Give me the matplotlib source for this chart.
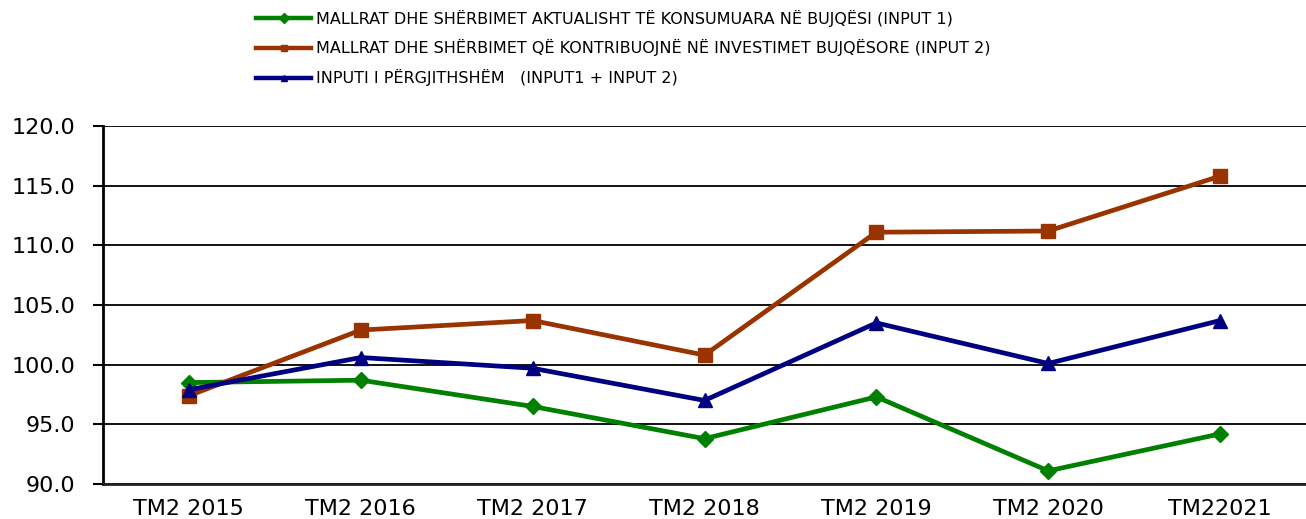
import matplotlib
matplotlib.use("Agg")
import matplotlib.pyplot as plt
from matplotlib.lines import Line2D

categories = ["TM2 2015", "TM2 2016", "TM2 2017", "TM2 2018", "TM2 2019", "TM2 2020", "TM22021"]
input1 = [98.5, 98.7, 96.5, 93.8, 97.3, 91.1, 94.2]
input2 = [97.4, 102.9, 103.7, 100.8, 111.1, 111.2, 115.8]
total = [97.9, 100.6, 99.7, 97.0, 103.5, 100.1, 103.7]
labels = [
    "MALLRAT DHE SHËRBIMET AKTUALISHT TË KONSUMUARA NË BUJQËSI (INPUT 1)",
    "MALLRAT DHE SHËRBIMET QË KONTRIBUOJNË NË INVESTIMET BUJQËSORE (INPUT 2)",
    "INPUTI I PËRGJITHSHËM   (INPUT1 + INPUT 2)",
]
yticks = [90, 95, 100, 105, 110, 115, 120]

plt.rcParams['font.family'] = ['DejaVu Sans']

fig = plt.figure(figsize=(13.06, 5.19), dpi=100)
ax = fig.add_axes([103/1306, 1-484/519, 1-103/1306, (484-126)/519])

x = list(range(len(categories)))
styles = [
    (input1, "#008000", "D", 8),
    (input2, "#993300", "s", 9.5),
    (total, "#000080", "^", 10),
]
handles = []
for (vals, col, mk, ms), lab in zip(styles, labels):
    ax.plot(x, vals, color=col, lw=3.4, marker=mk, markersize=ms, zorder=3)
    handles.append(Line2D([], [], color=col, lw=3.2, marker=mk, markersize=5))

ax.set_xlim(-0.5, len(categories) - 0.5)
ax.set_ylim(90, 120)
ax.set_yticks(yticks)
ax.set_yticklabels([f"{v:.1f}" for v in yticks], fontsize=16)
ax.set_xticks(x)
ax.set_xticklabels(categories, fontsize=16)
ax.tick_params(axis='x', length=0, pad=11)
ax.tick_params(axis='y', length=7, width=1.5, pad=13, color='black')
ax.yaxis.grid(True, color='black', lw=1.3)
ax.set_axisbelow(True)
for s in ['top', 'right']:
    ax.spines[s].set_visible(False)
ax.spines['left'].set_linewidth(2)
ax.spines['bottom'].set_linewidth(2)
ax.spines['bottom'].set_color('#222222')

fig.legend(handles, labels, loc='upper left', bbox_to_anchor=(246/1306, 1.0),
           frameon=False, fontsize=11.5, handlelength=3.5, handletextpad=0.3,
           labelspacing=0.8, borderaxespad=0.2)

fig.savefig("out.png", dpi=100)
